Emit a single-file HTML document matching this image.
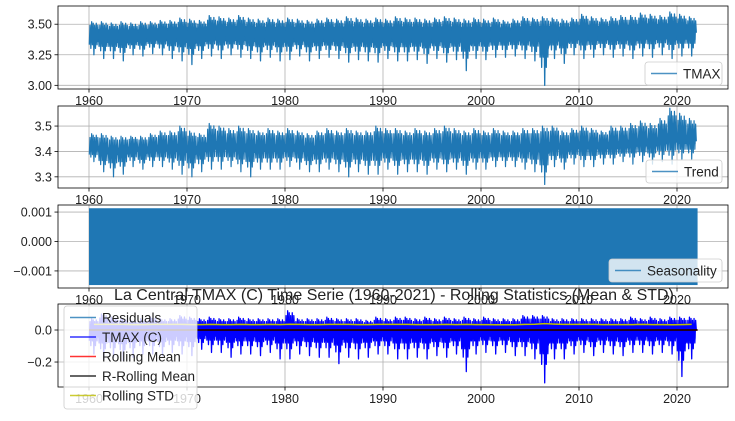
<!DOCTYPE html>
<html><head><meta charset="utf-8"><style>
body{margin:0;background:#fff}
svg text{font-family:"Liberation Sans","DejaVu Sans",sans-serif;fill:#222}
</style></head><body>
<svg id="chart" width="735" height="416" xmlns="http://www.w3.org/2000/svg"></svg>
<script>
const years=[1960,1961,1962,1963,1964,1965,1966,1967,1968,1969,1970,1971,1972,1973,1974,1975,1976,1977,1978,1979,1980,1981,1982,1983,1984,1985,1986,1987,1988,1989,1990,1991,1992,1993,1994,1995,1996,1997,1998,1999,2000,2001,2002,2003,2004,2005,2006,2007,2008,2009,2010,2011,2012,2013,2014,2015,2016,2017,2018,2019,2020,2021];
const xTicks=[1960,1970,1980,1990,2000,2010,2020];
const tmaxHi=[3.52,3.52,3.51,3.52,3.51,3.52,3.52,3.53,3.53,3.55,3.54,3.53,3.57,3.56,3.55,3.57,3.55,3.54,3.55,3.54,3.55,3.54,3.53,3.54,3.55,3.54,3.56,3.55,3.54,3.55,3.54,3.56,3.55,3.55,3.54,3.55,3.56,3.55,3.54,3.55,3.54,3.55,3.53,3.54,3.56,3.55,3.56,3.55,3.54,3.55,3.58,3.56,3.55,3.56,3.57,3.57,3.59,3.58,3.57,3.60,3.58,3.56];
const tmaxLo=[3.25,3.22,3.22,3.20,3.25,3.24,3.26,3.25,3.22,3.20,3.17,3.22,3.24,3.22,3.25,3.23,3.22,3.20,3.23,3.20,3.21,3.24,3.20,3.22,3.23,3.22,3.19,3.21,3.20,3.19,3.22,3.20,3.20,3.21,3.18,3.22,3.19,3.21,3.12,3.22,3.21,3.23,3.23,3.24,3.22,3.20,3.00,3.22,3.18,3.25,3.22,3.23,3.25,3.23,3.24,3.22,3.24,3.23,3.25,3.22,3.24,3.24];
const tmaxMean=[3.40,3.40,3.40,3.40,3.40,3.40,3.41,3.41,3.41,3.41,3.41,3.41,3.42,3.42,3.41,3.42,3.41,3.41,3.41,3.41,3.41,3.41,3.41,3.41,3.41,3.41,3.41,3.41,3.41,3.41,3.41,3.41,3.41,3.41,3.41,3.41,3.41,3.41,3.41,3.41,3.41,3.41,3.41,3.41,3.42,3.42,3.42,3.42,3.41,3.42,3.42,3.42,3.42,3.42,3.42,3.42,3.43,3.43,3.43,3.43,3.43,3.43];
const trendHi=[3.47,3.47,3.46,3.46,3.46,3.46,3.47,3.48,3.48,3.50,3.48,3.47,3.51,3.50,3.49,3.50,3.49,3.48,3.49,3.48,3.49,3.48,3.47,3.48,3.49,3.48,3.49,3.48,3.48,3.50,3.49,3.49,3.48,3.49,3.48,3.49,3.50,3.49,3.48,3.49,3.48,3.49,3.48,3.48,3.49,3.49,3.50,3.50,3.48,3.49,3.50,3.49,3.48,3.50,3.50,3.51,3.52,3.51,3.53,3.57,3.55,3.53];
const trendLo=[3.36,3.32,3.30,3.31,3.34,3.33,3.34,3.34,3.33,3.31,3.30,3.32,3.33,3.33,3.34,3.32,3.30,3.33,3.33,3.33,3.34,3.33,3.32,3.32,3.33,3.32,3.30,3.32,3.31,3.31,3.33,3.31,3.32,3.32,3.31,3.33,3.32,3.33,3.31,3.33,3.33,3.34,3.34,3.34,3.33,3.32,3.27,3.34,3.33,3.35,3.34,3.34,3.35,3.35,3.36,3.35,3.36,3.35,3.36,3.35,3.37,3.37];
const trendMean=[3.41,3.40,3.40,3.40,3.41,3.40,3.41,3.41,3.41,3.41,3.40,3.41,3.42,3.42,3.41,3.41,3.41,3.41,3.41,3.41,3.41,3.41,3.40,3.41,3.41,3.41,3.41,3.41,3.41,3.41,3.41,3.41,3.41,3.41,3.41,3.41,3.41,3.41,3.41,3.41,3.41,3.41,3.41,3.41,3.41,3.41,3.41,3.42,3.41,3.42,3.42,3.42,3.42,3.42,3.42,3.43,3.43,3.43,3.44,3.45,3.44,3.44];
const seasonHi=0.00113, seasonLo=-0.00148;
const residHi=[0.07,0.10,0.08,0.07,0.06,0.07,0.08,0.07,0.07,0.09,0.08,0.07,0.08,0.07,0.07,0.08,0.07,0.07,0.07,0.07,0.12,0.07,0.07,0.07,0.08,0.07,0.07,0.07,0.06,0.08,0.07,0.08,0.08,0.07,0.08,0.07,0.08,0.07,0.08,0.07,0.08,0.07,0.07,0.07,0.09,0.09,0.09,0.07,0.07,0.07,0.07,0.07,0.07,0.07,0.07,0.08,0.07,0.08,0.07,0.08,0.08,0.08];
const residLo=[-0.15,-0.18,-0.17,-0.19,-0.17,-0.15,-0.15,-0.16,-0.14,-0.15,-0.16,-0.12,-0.14,-0.14,-0.17,-0.15,-0.15,-0.16,-0.14,-0.18,-0.18,-0.15,-0.16,-0.17,-0.17,-0.21,-0.17,-0.18,-0.17,-0.15,-0.15,-0.18,-0.18,-0.17,-0.18,-0.16,-0.17,-0.15,-0.26,-0.15,-0.14,-0.15,-0.14,-0.16,-0.16,-0.18,-0.33,-0.18,-0.18,-0.15,-0.14,-0.16,-0.14,-0.15,-0.16,-0.14,-0.14,-0.15,-0.14,-0.15,-0.29,-0.18];
const residMean=[0,0,0,0,0,0,0,0,0,0,0,0,0,0,0,0,0,0,0,0,0,0,0,0,0,0,0,0,0,0,0,0,0,0,0,0,0,0,0,0,0,0,0,0,0,0,0,0,0,0,0,0,0,0,0,0,0,0,0,0,0,0];
const rollStd=[0.035,0.035,0.035,0.035,0.034,0.034,0.035,0.035,0.035,0.035,0.034,0.034,0.035,0.034,0.034,0.035,0.034,0.034,0.035,0.034,0.036,0.035,0.034,0.034,0.035,0.035,0.035,0.034,0.034,0.035,0.035,0.035,0.035,0.034,0.034,0.034,0.035,0.034,0.035,0.034,0.034,0.033,0.033,0.033,0.035,0.036,0.040,0.037,0.035,0.035,0.035,0.035,0.034,0.034,0.034,0.034,0.035,0.034,0.034,0.033,0.034,0.035];
const endYear=2022.1;

const NS="http://www.w3.org/2000/svg";
const svg=document.getElementById('chart');
function mk(tag,attrs,parent){const e=document.createElementNS(NS,tag);for(const k in attrs)e.setAttribute(k,attrs[k]);(parent||svg).appendChild(e);return e;}
const X0=58,X1=728;
function xs(yr){return 89+(yr-1960)*9.8;}

function panel(name,top,bottom,vTop,vBot,yTicks,fmt){
  const g=mk('g',{});
  
  
  const ys=v=>top+(vTop-v)/(vTop-vBot)*(bottom-top);
  const grid=mk('g',{},g);
  
  
  xTicks.forEach(t=>{mk('line',{x1:xs(t),x2:xs(t),y1:top,y2:bottom,stroke:'#b0b0b0','stroke-width':0.8},grid);
    mk('line',{x1:xs(t),x2:xs(t),y1:bottom,y2:bottom+3.5,stroke:'#000','stroke-width':0.8},g);
    const tx=mk('text',{x:xs(t),y:bottom+16,'text-anchor':'middle','font-size':'12.5'},g);
    
    
    tx.textContent=t;});
  yTicks.forEach(t=>{const y=ys(t);mk('line',{x1:X0,x2:X1,y1:y,y2:y,stroke:'#b0b0b0','stroke-width':0.8},grid);
    mk('line',{x1:X0-3.5,x2:X0,y1:y,y2:y,stroke:'#000','stroke-width':0.8},g);
    const tx=mk('text',{x:X0-6,y:y+4.5,'text-anchor':'end','font-size':'12.5'},g);
    
    
    tx.textContent=fmt(t);});
  const dg=mk('g',{},g);
  const frame=()=>{const f=mk('rect',{x:X0,y:top,width:X1-X0,height:bottom-top,fill:'none',stroke:'#000','stroke-width':0.8},g);
    };
  return {g,dg,ys,frame};
}
function series(p,hi,lo,mean,color,width,name,bu,bd){
  const up=[],dn=[];
  years.forEach((yr,i)=>{
    const m=mean[i];
    [0.1,0.5,0.9].forEach(o=>{const t=Math.min(yr+o,endYear);
      up.push(xs(t).toFixed(2)+','+p.ys(m+(hi[i]-m)*bu).toFixed(2));
      dn.unshift(xs(t).toFixed(2)+','+p.ys(m-(m-lo[i])*bd).toFixed(2));});
  });
  const band=mk('polygon',{points:up.concat(dn).join(' '),fill:color},p.dg);
  
  
  const offs=[0.03,0.11,0.19,0.27,0.35,0.43,0.5,0.58,0.66,0.74,0.82,0.9,0.97];
  let pts=[];
  years.forEach((yr,i)=>{
    const m=mean[i],h=hi[i],l=lo[i];
    const h2=m+(h-m)*0.75,h3=m+(h-m)*0.9,l2=m-(m-l)*0.45,l3=m-(m-l)*0.65;
    const vals=[l2,h2,l3,h,l2,h3,l,h2,l3,h3,l2,h2,m];
    vals.forEach((v,k)=>{const t=yr+offs[k];if(t<=endYear)pts.push(xs(t).toFixed(2)+','+p.ys(v).toFixed(2));});
  });
  const pl=mk('polyline',{points:pts.join(' '),fill:'none',stroke:color,'stroke-width':width,'stroke-linejoin':'round'},p.dg);
  
  
}
function legend(x,y,w,h,items,alpha){
  const g=mk('g',{});
  
  
  mk('rect',{x:x,y:y,width:w,height:h,rx:3,fill:'#fff','fill-opacity':alpha,stroke:'#ccc','stroke-width':0.8},g);
  items.forEach((it,i)=>{const cy=y+11.5+i*19.5;
    const ln=mk('line',{x1:x+6,x2:x+32,y1:cy,y2:cy,stroke:it[1],'stroke-width':1.6,'stroke-opacity':0.8},g);
    
    const t=mk('text',{x:x+38,y:cy+5,'font-size':'13.5'},g);
    
    t.textContent=it[0];});
}
// Panel 1
const p1=panel('tmax-panel',6,89,3.649,2.97,[3.0,3.25,3.5],v=>v.toFixed(2));
series(p1,tmaxHi,tmaxLo,tmaxMean,'#1f77b4',1.3,'tmax-line',0.5,0.3);
p1.frame();
legend(645,62,77,23,[['TMAX','#1f77b4']],0.8);
// Panel 2
const p2=panel('trend-panel',106,188,3.579,3.256,[3.3,3.4,3.5],v=>v.toFixed(1));
series(p2,trendHi,trendLo,trendMean,'#1f77b4',1.2,'trend-line',0.25,0.15);
p2.frame();
legend(646,160,76,23,[['Trend','#1f77b4']],0.8);
// Panel 3
const p3=panel('seasonality-panel',205,288,0.00124,-0.00158,[-0.001,0,0.001],v=>v===0?'0.000':(v<0?'\u22120.001':'0.001'));
const sr=mk('rect',{x:xs(1960),y:p3.ys(seasonHi),width:xs(endYear)-xs(1960),height:p3.ys(seasonLo)-p3.ys(seasonHi),fill:'#1f77b4'},p3.dg);

p3.frame();
legend(609,259,113,23,[['Seasonality','#1f77b4']],0.8);
// Panel 4
const p4=panel('residuals-panel',304,387,0.1625,-0.356,[-0.2,0.0],v=>v===0?'0.0':'\u22120.2');
series(p4,residHi,residLo,residMean,'#0000ff',1.3,'tmax-c-line',0.5,0.3);
const zl=mk('line',{x1:xs(1960),x2:xs(endYear),y1:p4.ys(0),y2:p4.ys(0),stroke:'#ff0000','stroke-width':1.5},p4.dg);

const zl2=mk('line',{x1:xs(1960),x2:xs(endYear),y1:p4.ys(0),y2:p4.ys(0),stroke:'#000','stroke-width':1.5},p4.dg);

const sp=years.map((yr,i)=>xs(yr+0.5).toFixed(2)+','+p4.ys(rollStd[i]).toFixed(2));
const sl=mk('polyline',{points:sp.join(' '),fill:'none',stroke:'#bfbf00','stroke-width':1.5},p4.dg);

p4.frame();
const title=mk('text',{x:394,y:300,'text-anchor':'middle','font-size':'16'});

title.textContent='La Central TMAX (C) Time Serie (1960-2021) - Rolling Statistics (Mean & STD)';
legend(64,306,133,103,[['Residuals','#1f77b4'],['TMAX (C)','#0000ff'],['Rolling Mean','#ff0000'],['R-Rolling Mean','#000'],['Rolling STD','#bfbf00']],0.8);
</script>
</body></html>
